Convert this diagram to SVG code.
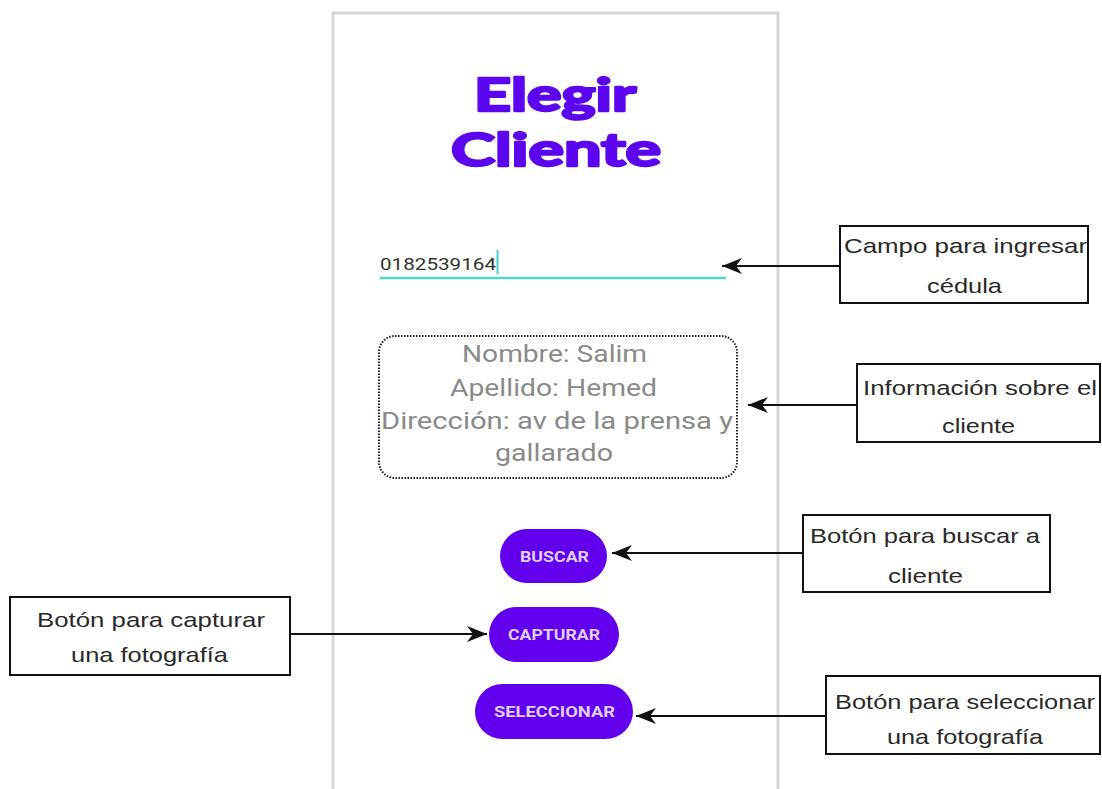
<svg xmlns="http://www.w3.org/2000/svg" width="1102" height="789" viewBox="0 0 1102 789">
  <style>
    .label { font-family: "Liberation Sans", Arial, sans-serif; font-size: 21px; fill: #2a2a2a; }
    .note { fill: #fff; stroke: #111; stroke-width: 2; }
    .btn { fill: #6200ee; }
    .btn-text { font-family: Roboto, "Liberation Sans", sans-serif; font-weight: bold; font-size: 14px; fill: #ddd0fa; }
    .info { font-family: Roboto, "Liberation Sans", sans-serif; font-size: 23px; fill: #8a8a8a; }
    .title { font-family: Lato, "Liberation Sans", sans-serif; font-weight: bold; font-size: 46px; fill: #5b06ee; stroke: #5b06ee; stroke-width: 2.5; stroke-linejoin: round; }
    .conn { stroke: #111; stroke-width: 2; fill: none; marker-end: url(#head); }
  </style>
  <defs>
    <marker id="head" markerUnits="userSpaceOnUse" viewBox="0 0 20 16" refX="20" refY="8" markerWidth="20" markerHeight="16" orient="auto">
      <path d="M0,0 L20,8 L0,16 L6,8 Z" fill="#111"/>
    </marker>
  </defs>

  <rect width="1102" height="789" fill="#fff"/>

  <!-- phone screen -->
  <g id="screen">
    <path d="M333,789 L333,13 L778,13 L778,789" fill="#fff" stroke="#d6d6d6" stroke-width="3"/>
    <text class="title" x="474" y="111" textLength="162" lengthAdjust="spacingAndGlyphs">Elegir</text>
    <text class="title" x="451" y="166" textLength="210" lengthAdjust="spacingAndGlyphs">Cliente</text>
  </g>

  <!-- ID input field -->
  <g id="input">
    <text x="380" y="270" font-family="Roboto, 'Liberation Sans', sans-serif" font-size="17" fill="#333" textLength="116" lengthAdjust="spacingAndGlyphs">0182539164</text>
    <line x1="497.5" y1="250" x2="497.5" y2="274" stroke="#3fd3c6" stroke-width="2"/>
    <line x1="380" y1="278" x2="726" y2="278" stroke="#4fd6ca" stroke-width="2.5"/>
  </g>

  <!-- client info panel -->
  <g id="info">
    <rect x="379" y="336" width="358" height="142" rx="16" fill="none" stroke="#222" stroke-width="2" stroke-dasharray="1.5 1.5"/>
    <text class="info" x="462" y="362" textLength="185" lengthAdjust="spacingAndGlyphs">Nombre: Salim</text>
    <text class="info" x="450" y="396" textLength="207" lengthAdjust="spacingAndGlyphs">Apellido: Hemed</text>
    <text class="info" x="381" y="429" textLength="352" lengthAdjust="spacingAndGlyphs">Dirección: av de la prensa y</text>
    <text class="info" x="495" y="461" textLength="118" lengthAdjust="spacingAndGlyphs">gallarado</text>
  </g>

  <!-- buttons -->
  <g id="btn-buscar">
    <rect class="btn" x="500" y="529" width="107" height="54" rx="27"/>
    <text class="btn-text" x="520" y="562" textLength="69" lengthAdjust="spacingAndGlyphs">BUSCAR</text>
  </g>
  <g id="btn-capturar">
    <rect class="btn" x="489" y="607" width="130" height="55" rx="27.5"/>
    <text class="btn-text" x="508" y="640" textLength="92" lengthAdjust="spacingAndGlyphs">CAPTURAR</text>
  </g>
  <g id="btn-seleccionar">
    <rect class="btn" x="475" y="684" width="158" height="55" rx="27.5"/>
    <text class="btn-text" x="494" y="717" textLength="121" lengthAdjust="spacingAndGlyphs">SELECCIONAR</text>
  </g>

  <!-- callout notes -->
  <g id="note-cedula">
    <rect class="note" x="840" y="226" width="248" height="77"/>
    <text class="label" x="844" y="253" textLength="243" lengthAdjust="spacingAndGlyphs">Campo para ingresar</text>
    <text class="label" x="927" y="293" textLength="75" lengthAdjust="spacingAndGlyphs">cédula</text>
  </g>
  <g id="note-info">
    <rect class="note" x="857" y="364" width="243" height="78"/>
    <text class="label" x="863" y="395" textLength="234" lengthAdjust="spacingAndGlyphs">Información sobre el</text>
    <text class="label" x="942" y="433" textLength="73" lengthAdjust="spacingAndGlyphs">cliente</text>
  </g>
  <g id="note-buscar">
    <rect class="note" x="803" y="515" width="247" height="77"/>
    <text class="label" x="810" y="543" textLength="230" lengthAdjust="spacingAndGlyphs">Botón para buscar a</text>
    <text class="label" x="888" y="583" textLength="75" lengthAdjust="spacingAndGlyphs">cliente</text>
  </g>
  <g id="note-capturar">
    <rect class="note" x="10" y="597" width="280" height="78"/>
    <text class="label" x="37" y="627" textLength="228" lengthAdjust="spacingAndGlyphs">Botón para capturar</text>
    <text class="label" x="71" y="662" textLength="157" lengthAdjust="spacingAndGlyphs">una fotografía</text>
  </g>
  <g id="note-seleccionar">
    <rect class="note" x="826" y="676" width="274" height="78"/>
    <text class="label" x="835" y="709" textLength="260" lengthAdjust="spacingAndGlyphs">Botón para seleccionar</text>
    <text class="label" x="887" y="744" textLength="156" lengthAdjust="spacingAndGlyphs">una fotografía</text>
  </g>

  <!-- connectors -->
  <g id="connectors">
    <line class="conn" x1="840" y1="266" x2="722" y2="266"/>
    <line class="conn" x1="857" y1="405" x2="748" y2="405"/>
    <line class="conn" x1="803" y1="553" x2="612" y2="553"/>
    <line class="conn" x1="290" y1="634" x2="487" y2="634"/>
    <line class="conn" x1="826" y1="716" x2="636" y2="716"/>
  </g>
</svg>
